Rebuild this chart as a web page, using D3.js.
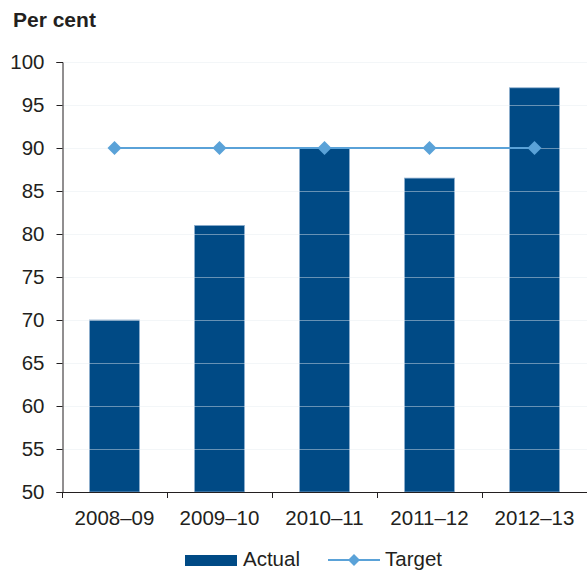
<!DOCTYPE html>
<html>
<head>
<meta charset="utf-8">
<script src="https://cdn.jsdelivr.net/npm/d3@7"></script>
<style>
  html, body { margin: 0; padding: 0; background: #fff; }
  svg text { font-family: "Liberation Sans", Arial, sans-serif; fill: #231f20; }
</style>
</head>
<body>
<svg id="chart" width="587" height="570"></svg>
<script>
// Annual results against the target, in per cent
const years = ["2008–09", "2009–10", "2010–11", "2011–12", "2012–13"];
const actual = [70, 81, 90, 86.5, 97];
const target = [90, 90, 90, 90, 90];
const yTicks = [50, 55, 60, 65, 70, 75, 80, 85, 90, 95, 100];

const svg = d3.select("#chart");
const plotLeft = 62, plotRight = 587, plotTop = 62, plotBottom = 492;
const fontSize = "20.5px";

const x = d3.scaleBand().domain(years).range([plotLeft, plotRight]).paddingInner(0.524).paddingOuter(0.262);
const xBand = d3.scaleBand().domain(years).range([plotLeft, plotRight]);
const y = d3.scaleLinear().domain([50, 100]).range([plotBottom, plotTop]);

// Axis title
svg.append("text").attr("x", 13).attr("y", 27)
  .style("font-size", "21px").style("font-weight", "bold").text("Per cent");

// Bars
svg.append("g").selectAll("rect").data(actual).join("rect")
  .attr("x", (d, i) => x(years[i]))
  .attr("width", x.bandwidth())
  .attr("y", d => y(d))
  .attr("height", d => y(50) - y(d))
  .attr("fill", "#004a85")
  .attr("stroke", "#8fb0cf")
  .attr("stroke-width", 0.8);

// Gridlines, drawn over the bars as a pale translucent rule
svg.append("g").selectAll("line").data(yTicks.filter(t => t > 50)).join("line")
  .attr("x1", plotLeft).attr("x2", plotRight)
  .attr("y1", d => y(d) + 0.5).attr("y2", d => y(d) + 0.5)
  .attr("stroke", "rgba(228,234,240,0.45)")
  .attr("stroke-width", 1);

// Y axis
const yAxis = svg.append("g").attr("transform", `translate(${plotLeft + 0.5},0)`)
  .call(d3.axisLeft(y).tickValues(yTicks).tickSize(6).tickPadding(12));
yAxis.attr("font-family", null).attr("font-size", null);
yAxis.select(".domain").attr("stroke", "#231f20");
yAxis.selectAll(".tick line").attr("stroke", "#231f20");
yAxis.selectAll("text").style("font-size", fontSize).style("fill", "#231f20");

// X axis with ticks on category boundaries
svg.append("line").attr("x1", plotLeft).attr("x2", plotRight)
  .attr("y1", plotBottom + 0.5).attr("y2", plotBottom + 0.5).attr("stroke", "#231f20");
svg.append("g").selectAll("line").data(years).join("line")
  .attr("x1", d => xBand(d) + 0.5).attr("x2", d => xBand(d) + 0.5)
  .attr("y1", plotBottom).attr("y2", plotBottom + 6).attr("stroke", "#231f20");
svg.append("g").selectAll("text").data(years).join("text")
  .attr("x", d => xBand(d) + xBand.bandwidth() / 2)
  .attr("y", 525)
  .attr("text-anchor", "middle")
  .style("font-size", fontSize)
  .text(d => d);

// Target line with diamond markers
const cx = (d, i) => x(years[i]) + x.bandwidth() / 2;
svg.append("path").datum(target)
  .attr("fill", "none").attr("stroke", "#5aa2d8").attr("stroke-width", 2.2)
  .attr("d", d3.line().x(cx).y(d => y(d)));
svg.append("g").selectAll("path").data(target).join("path")
  .attr("transform", (d, i) => `translate(${cx(d, i)},${y(d)}) rotate(45)`)
  .attr("d", d3.symbol().type(d3.symbolSquare).size(98))
  .attr("fill", "#5aa2d8");

// Legend
const lg = svg.append("g");
lg.append("rect").attr("x", 185).attr("y", 555).attr("width", 52).attr("height", 11).attr("fill", "#004a85");
lg.append("text").attr("x", 243).attr("y", 566).style("font-size", fontSize).text("Actual");
lg.append("line").attr("x1", 328).attr("x2", 380).attr("y1", 560).attr("y2", 560)
  .attr("stroke", "#5aa2d8").attr("stroke-width", 2.2);
lg.append("path").attr("transform", "translate(354,560) rotate(45)")
  .attr("d", d3.symbol().type(d3.symbolSquare).size(72)).attr("fill", "#5aa2d8");
lg.append("text").attr("x", 385).attr("y", 566).style("font-size", fontSize).text("Target");
</script>
</body>
</html>
